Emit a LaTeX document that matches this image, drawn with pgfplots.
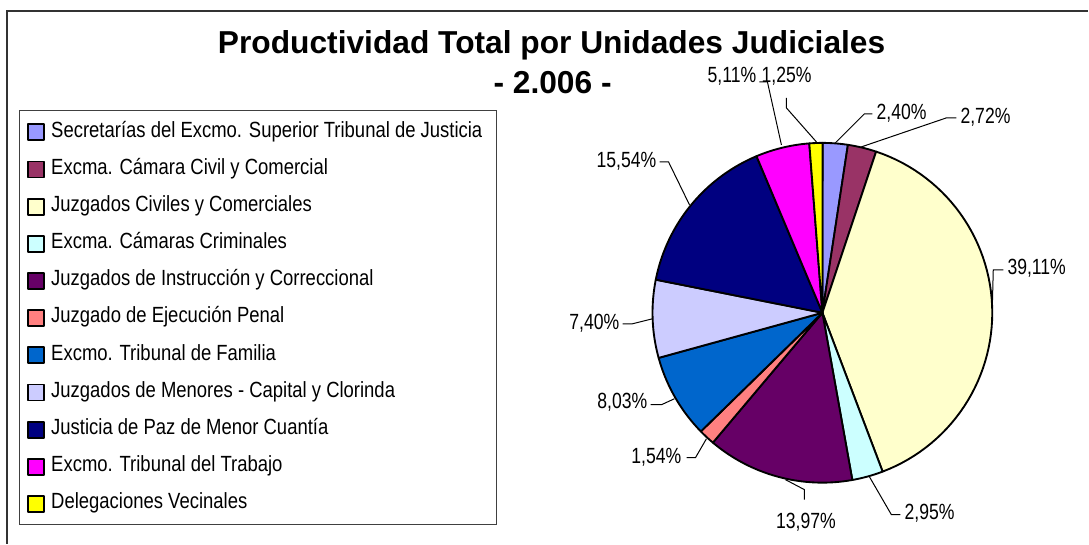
\documentclass[border=0pt]{standalone}
\usepackage{pgfplots}
\pgfplotsset{compat=1.18}
\usepackage{pgfplotstable}
\usepackage{fontspec}
\setmainfont{Liberation Sans}
\newfontfamily\lblfont[FakeStretch=0.8]{Liberation Sans}
\newfontfamily\legfont[FakeStretch=0.84]{Liberation Sans}

\definecolor{s0}{HTML}{9999FF}
\definecolor{s1}{HTML}{993366}
\definecolor{s2}{HTML}{FFFFCC}
\definecolor{s3}{HTML}{CCFFFF}
\definecolor{s4}{HTML}{660066}
\definecolor{s5}{HTML}{FF8080}
\definecolor{s6}{HTML}{0066CC}
\definecolor{s7}{HTML}{CCCCFF}
\definecolor{s8}{HTML}{000080}
\definecolor{s9}{HTML}{FF00FF}
\definecolor{s10}{HTML}{FFFF00}

\pgfplotstableread[col sep=semicolon]{
pct;name
2.40;Secretarías del Excmo. Superior Tribunal de Justicia
2.72;Excma. Cámara Civil y Comercial
39.11;Juzgados Civiles y Comerciales
2.95;Excma. Cámaras Criminales
13.97;Juzgados de Instrucción y Correccional
1.54;Juzgado de Ejecución Penal
8.03;Excmo. Tribunal de Familia
7.40;Juzgados de Menores - Capital y Clorinda
15.54;Justicia de Paz de Menor Cuantía
5.11;Excmo. Tribunal del Trabajo
1.25;Delegaciones Vecinales
}\piedata

\newcommand\pct[1]{\pgfplotstablegetelem{#1}{pct}\of\piedata\pgfmathprintnumber[fixed,fixed zerofill,precision=2,use comma,assume math mode=true]{\pgfplotsretval}\%}

\begin{document}
\begin{tikzpicture}
\begin{axis}[
  width=816.75pt, height=408pt, scale only axis,
  xmin=0, xmax=1089, ymin=0, ymax=544, y dir=reverse,
  hide axis, clip=false,
  area legend,
  legend image code/.code={\draw[#1,draw=black,line width=1.3pt] (0pt,-6.5pt) rectangle (12pt,5.5pt);},
  legend cell align=left,
  legend style={at={(axis cs:19,110)}, anchor=north west, draw=black!75, line width=0.8pt,
    font=\legfont\fontsize{16.5pt}{18pt}\selectfont,
    inner xsep=5.5pt, inner ysep=8.5pt, row sep=13.1pt,
    nodes={inner xsep=5pt, inner ysep=0pt, text height=11.5pt, text depth=3.3pt}},
]
\path (0,0) rectangle (1089,544);
\def\cum{0}
\pgfplotsforeachungrouped \i in {0,...,10}{%
  \pgfplotstablegetelem{\i}{pct}\of\piedata
  \let\v\pgfplotsretval
  \pgfplotstablegetelem{\i}{name}\of\piedata
  \let\nm\pgfplotsretval
  \pgfmathsetmacro\a{90-3.6*\cum}%
  \pgfmathsetmacro\cum{\cum+\v}%
  \pgfmathsetmacro\b{90-3.6*\cum}%
  \edef\doit{\noexpand\addplot[fill=s\i, draw=black, line width=1.4pt, line join=round, domain=\b:\a, samples=60]
     ({823+170*cos(x)},{313-170*sin(x)}) -- (823,313) -- cycle;
     \noexpand\addlegendentry{\nm}}%
  \doit
}
% frame
\draw[line width=1.2pt, black!80] (7,544) -- (7,11) -- (1089,11);
% title
\node[font=\bfseries\fontsize{23.8pt}{26pt}\selectfont, anchor=base, inner sep=0pt] at (552,53.3) {Productividad Total por Unidades Judiciales};
\node[font=\bfseries\fontsize{23.8pt}{26pt}\selectfont, anchor=base, inner sep=0pt] at (553,93.3) {- 2.006 -};
% leader lines
\begin{scope}[line width=0.75pt, black]
\draw (836,143) -- (865,114) -- (873,114);
\draw (862,147) -- (947,118) -- (957,118);
\draw (993,309) -- (994,270) -- (1004,270);
\draw (870,477) -- (892,515) -- (901,515);
\draw (786,480) -- (805,490) -- (805,500);
\draw (707,439) -- (696,458) -- (687,458);
\draw (675,399) -- (662,405) -- (651,405);
\draw (653,319) -- (633,324) -- (623,324);
\draw (690,205) -- (669,162) -- (660,162);
\draw (782,145) -- (768,82) -- (760,82);
\draw (817,142) -- (787,108) -- (787,98);
\end{scope}
\begin{scope}[every node/.style={font=\lblfont\fontsize{16.5pt}{18pt}\selectfont, inner sep=0pt}]
\node[anchor=base west] at (877,119.5) {\pct{0}};
\node[anchor=base west] at (961,123.3) {\pct{1}};
\node[anchor=base west] at (1008,275) {\pct{2}};
\node[anchor=base west] at (905,520) {\pct{3}};
\node[anchor=base] at (806.5,529.3) {\pct{4}};
\node[anchor=base east] at (682,464) {\pct{5}};
\node[anchor=base east] at (648,409.3) {\pct{6}};
\node[anchor=base east] at (620,329.3) {\pct{7}};
\node[anchor=base east] at (657,167.3) {\pct{8}};
\node[anchor=base east] at (757,82.7) {\pct{9}};
\node[anchor=base west] at (762,82.7) {\pct{10}};
\end{scope}
\end{axis}
\end{tikzpicture}
\end{document}
